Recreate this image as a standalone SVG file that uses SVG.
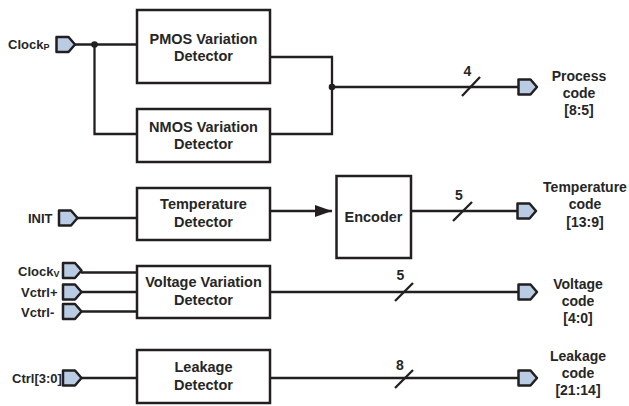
<svg xmlns="http://www.w3.org/2000/svg" width="629" height="406" viewBox="0 0 629 406">
<style>
.box{fill:#fff;stroke:#231f20;stroke-width:2.5}
.w{fill:none;stroke:#231f20;stroke-width:2.3}
.port{fill:#b9cce4;stroke:#231f20;stroke-width:2.5;stroke-linejoin:round}
text{font-family:"Liberation Sans",Arial,sans-serif;font-weight:bold;fill:#262626}
.bt{font-size:14.5px;text-anchor:middle}
.lt{font-size:13px}
.rt{font-size:14px;text-anchor:middle}
.nt{font-size:14px;text-anchor:middle}
.sub{font-size:9px}
</style>
<defs>
<path id="pt" d="M0,-7.5 H12 L18.5,0 L12,7.5 H0 Z"/>
<marker id="arr" markerWidth="18" markerHeight="12" refX="17" refY="6" orient="auto" markerUnits="userSpaceOnUse">
<path d="M0,0 L17,6 L0,12 Z" fill="#231f20"/>
</marker>
</defs>
<rect width="629" height="406" fill="#fff"/>

<g id="connectors">
<path class="w" d="M75,44.5 H137 M94.5,44.5 V134 H137"/>
<circle cx="94.5" cy="44.5" r="3.3" fill="#231f20"/>
<path class="w" d="M270,57 H332 V134 H270 M332,87 H518"/>
<circle cx="332" cy="87" r="3.3" fill="#231f20"/>
<path class="w" d="M462,96 L480,77"/>
<path class="w" d="M77,218 H137"/>
<path class="w" d="M270,211 H332" marker-end="url(#arr)"/>
<path class="w" d="M411,211 H517"/>
<path class="w" d="M453,221 L472,202"/>
<path class="w" d="M81,272.5 H137 M81,292 H137 M81,311.5 H137"/>
<path class="w" d="M270,292 H518"/>
<path class="w" d="M395,301 L413,283"/>
<path class="w" d="M81,378 H137"/>
<path class="w" d="M270,378 H518"/>
<path class="w" d="M395,388 L413,370"/>
</g>

<g id="n-pmos"><rect class="box" x="137" y="10" width="133" height="73"/><text class="bt" x="203.5" y="43.5">PMOS Variation</text><text class="bt" x="203.5" y="60.5">Detector</text></g>
<g id="n-nmos"><rect class="box" x="137" y="109" width="133" height="53"/><text class="bt" x="203.5" y="132">NMOS Variation</text><text class="bt" x="203.5" y="149">Detector</text></g>
<g id="n-temp"><rect class="box" x="137" y="188" width="133" height="52"/><text class="bt" x="203.5" y="209">Temperature</text><text class="bt" x="203.5" y="226.5">Detector</text></g>
<g id="n-enc"><rect class="box" x="336.5" y="176" width="74.5" height="82"/><text class="bt" x="373.5" y="222">Encoder</text></g>
<g id="n-volt"><rect class="box" x="137" y="266" width="133" height="52"/><text class="bt" x="203.5" y="287">Voltage Variation</text><text class="bt" x="203.5" y="304.5">Detector</text></g>
<g id="n-leak"><rect class="box" x="137" y="350" width="133" height="53"/><text class="bt" x="203.5" y="372">Leakage</text><text class="bt" x="203.5" y="389.5">Detector</text></g>

<g id="p-clockp"><use href="#pt" class="port" x="56.5" y="44.5"/><text class="lt" x="8" y="49">Clock<tspan class="sub" dy="1">P</tspan></text></g>
<g id="p-init"><use href="#pt" class="port" x="59" y="218"/><text class="lt" x="28" y="223">INIT</text></g>
<g id="p-clockv"><use href="#pt" class="port" x="63" y="270.5"/><text class="lt" x="18" y="275.5">Clock<tspan class="sub" dy="1.5">V</tspan></text></g>
<g id="p-vctrlp"><use href="#pt" class="port" x="63" y="292"/><text class="lt" x="21" y="297">Vctrl+</text></g>
<g id="p-vctrlm"><use href="#pt" class="port" x="63" y="311.5"/><text class="lt" x="21" y="316.5">Vctrl-</text></g>
<g id="p-ctrl"><use href="#pt" class="port" x="63" y="378"/><text class="lt" x="12" y="383">Ctrl[3:0]</text></g>

<g id="o-process"><use href="#pt" class="port" x="518.5" y="87"/><text class="rt" x="579" y="81">Process</text><text class="rt" x="579" y="98">code</text><text class="rt" x="579" y="115">[8:5]</text></g>
<g id="o-temp"><use href="#pt" class="port" x="517.5" y="211"/><text class="rt" x="585" y="192">Temperature</text><text class="rt" x="585" y="209">code</text><text class="rt" x="585" y="226.5">[13:9]</text></g>
<g id="o-volt"><use href="#pt" class="port" x="518.5" y="292"/><text class="rt" x="578" y="289">Voltage</text><text class="rt" x="578" y="306">code</text><text class="rt" x="578" y="323">[4:0]</text></g>
<g id="o-leak"><use href="#pt" class="port" x="518.5" y="378"/><text class="rt" x="578" y="361">Leakage</text><text class="rt" x="578" y="378">code</text><text class="rt" x="578" y="395">[21:14]</text></g>

<g id="bus-labels">
<text class="nt" x="467.5" y="76">4</text>
<text class="nt" x="459" y="200">5</text>
<text class="nt" x="400.5" y="280">5</text>
<text class="nt" x="400" y="370">8</text>
</g>
</svg>
